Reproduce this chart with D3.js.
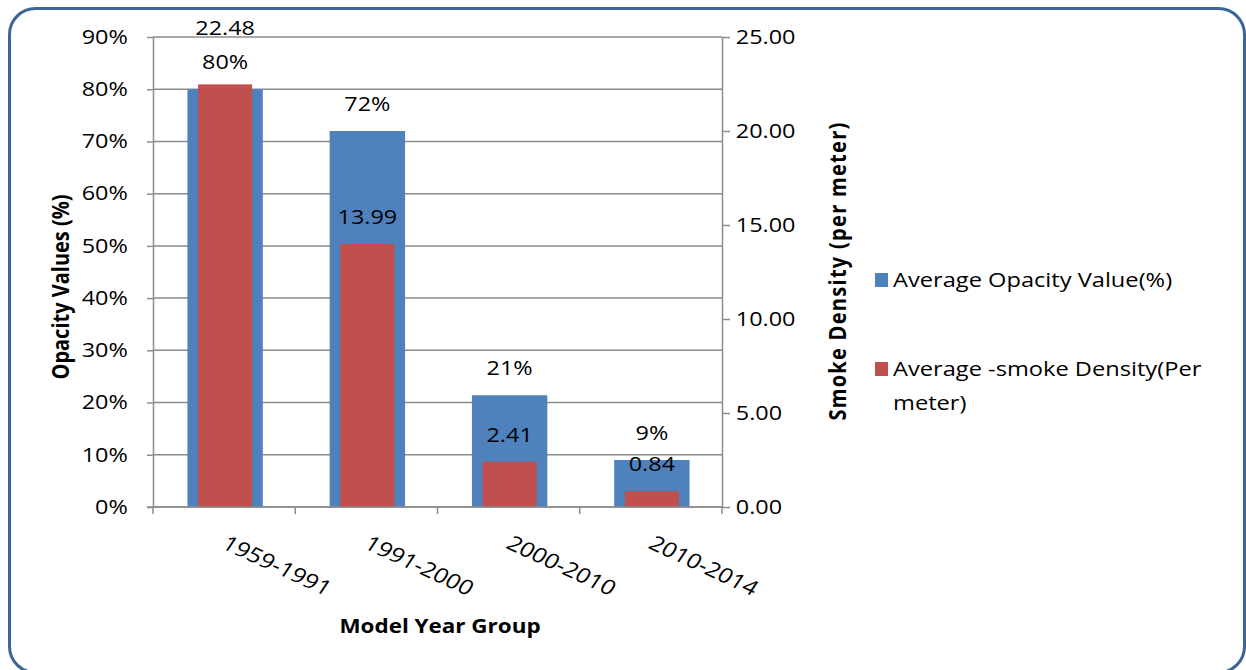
<!DOCTYPE html>
<html>
<head>
<meta charset="utf-8">
<script src="https://cdn.jsdelivr.net/npm/d3@7"></script>
<style>
  html, body { margin: 0; padding: 0; background: #ffffff; }
  svg { display: block; }
  text { font-family: "Open Sans", "Noto Sans", sans-serif; fill: #000; }
</style>
</head>
<body>
<svg id="chart" width="1246" height="670"></svg>
<script>
// Model year groups and the two measured series
const categories = ["1959-1991", "1991-2000", "2000-2010", "2010-2014"];
const opacityValues = [0.80, 0.72, 0.214, 0.09];      // Average Opacity Value (%)
const densityValues = [22.48, 13.99, 2.41, 0.84];     // Average smoke density (per meter)
const leftTicks = [0, 0.1, 0.2, 0.3, 0.4, 0.5, 0.6, 0.7, 0.8, 0.9];
const rightTicks = [0, 5, 10, 15, 20, 25];
const seriesColors = ["#4F81BD", "#C0504D"];

const SX = 1.2;           // horizontal widening applied to all text
const FONT = 19.5;
const GRID = "#8c8c8c";

const svg = d3.select("#chart");

// Rounded frame around the whole chart
svg.append("rect")
  .attr("x", 9.5).attr("y", 8.5)
  .attr("width", 1235).attr("height", 664)
  .attr("rx", 26).attr("ry", 26)
  .attr("fill", "#fff")
  .attr("stroke", "#3C6598").attr("stroke-width", 3);

const plot = { left: 153, right: 722, top: 37, bottom: 507 };

const x = d3.scaleBand().domain(categories).range([plot.left, plot.right]).padding(0);
const yL = d3.scaleLinear().domain([0, 0.9]).range([plot.bottom, plot.top]);
const yR = d3.scaleLinear().domain([0, 25]).range([plot.bottom, plot.top]);

// Horizontal gridlines at the left-axis ticks
svg.append("g").selectAll("line").data(leftTicks).join("line")
  .attr("x1", plot.left).attr("x2", plot.right)
  .attr("y1", d => yL(d)).attr("y2", d => yL(d))
  .attr("stroke", GRID).attr("stroke-width", 1.5);

// Bars: wide blue for opacity, narrower red for density drawn on top
const blueW = x.bandwidth() * 0.53;
const redW = x.bandwidth() * 0.38;
const cx = c => x(c) + x.bandwidth() / 2 + 1;

svg.append("g").selectAll("rect").data(categories).join("rect")
  .attr("x", c => cx(c) - blueW / 2)
  .attr("y", (c, i) => yL(opacityValues[i]))
  .attr("width", blueW)
  .attr("height", (c, i) => yL(0) - yL(opacityValues[i]))
  .attr("fill", seriesColors[0]);

svg.append("g").selectAll("rect").data(categories).join("rect")
  .attr("x", c => cx(c) - redW / 2)
  .attr("y", (c, i) => yR(densityValues[i]))
  .attr("width", redW)
  .attr("height", (c, i) => yR(0) - yR(densityValues[i]))
  .attr("fill", seriesColors[1]);

// Axes
function styleAxis(g) {
  g.select(".domain").attr("stroke", GRID).attr("stroke-width", 1.5);
  g.selectAll(".tick line").attr("stroke", GRID).attr("stroke-width", 1.5);
  g.selectAll(".tick text")
    .attr("font-size", FONT)
    .attr("font-family", "'Open Sans', sans-serif")
    .attr("fill", "#000")
    .attr("transform", `scale(${SX},1)`);
}

svg.append("g")
  .attr("transform", `translate(${plot.left},0)`)
  .call(d3.axisLeft(yL).tickValues(leftTicks).tickFormat(d3.format(".0%"))
    .tickSizeInner(6).tickSizeOuter(0).tickPadding(15))
  .call(styleAxis);

svg.append("g")
  .attr("transform", `translate(${plot.right},0)`)
  .call(d3.axisRight(yR).tickValues(rightTicks).tickFormat(d3.format(".2f"))
    .tickSizeInner(8).tickSizeOuter(0).tickPadding(3.5))
  .call(styleAxis);

// Category axis: boundary ticks, labels drawn separately
const xAxisG = svg.append("g");
xAxisG.append("line")
  .attr("x1", plot.left - 6).attr("x2", plot.right)
  .attr("y1", plot.bottom).attr("y2", plot.bottom)
  .attr("stroke", GRID).attr("stroke-width", 1.5);
const bounds = categories.map(c => x(c)).concat([x.range()[1]]);
xAxisG.selectAll("line.tk").data(bounds).join("line")
  .attr("class", "tk")
  .attr("x1", d => d).attr("x2", d => d)
  .attr("y1", plot.bottom).attr("y2", plot.bottom + 7)
  .attr("stroke", GRID).attr("stroke-width", 1.5);

xAxisG.selectAll("text").data(categories).join("text")
  .attr("transform", c => `translate(${cx(c) + 4},${plot.bottom + 27}) scale(${SX},1) rotate(29)`)
  .attr("dy", "0.75em")
  .attr("font-size", 20.5)
  .text(c => c);

// Data labels
const blueLabelY = opacityValues.map(v => yL(v) - 27);
svg.append("g").selectAll("text").data(categories).join("text")
  .attr("transform", (c, i) => `translate(${cx(c)},${blueLabelY[i]}) scale(${SX},1)`)
  .attr("text-anchor", "middle").attr("dy", "0.35em")
  .attr("font-size", FONT)
  .text((c, i) => d3.format(".0%")(opacityValues[i]));

svg.append("g").selectAll("text").data(categories).join("text")
  .attr("transform", (c, i) => {
    let ly = yR(densityValues[i]) - 27;
    if (Math.abs(ly - blueLabelY[i]) < 20) ly = blueLabelY[i] - 34;   // avoid overlapping the opacity label
    return `translate(${cx(c)},${ly}) scale(${SX},1)`;
  })
  .attr("text-anchor", "middle").attr("dy", "0.35em")
  .attr("font-size", FONT)
  .text((c, i) => d3.format(".2f")(densityValues[i]));

// Axis titles
svg.append("text")
  .attr("transform", `translate(61,287) scale(${SX},1) rotate(-90)`)
  .attr("text-anchor", "middle").attr("dy", "0.35em")
  .attr("font-size", 20).attr("font-weight", "bold")
  .text("Opacity Values (%)");

svg.append("text")
  .attr("transform", `translate(838,271) scale(${SX},1) rotate(-90)`)
  .attr("text-anchor", "middle").attr("dy", "0.35em")
  .attr("font-size", 20).attr("font-weight", "bold")
  .attr("letter-spacing", 1.3)
  .text("Smoke Density (per meter)");

svg.append("text")
  .attr("transform", `translate(440,626) scale(${SX},1)`)
  .attr("text-anchor", "middle").attr("dy", "0.35em")
  .attr("font-size", 18.7).attr("font-weight", "bold")
  .text("Model Year Group");

// Legend
const legend = svg.append("g");
const legendRows = [
  { y: 280, lines: ["Average Opacity Value(%)"] },
  { y: 369, lines: ["Average -smoke Density(Per", "meter)"] }
];
legendRows.forEach((row, i) => {
  legend.append("rect")
    .attr("x", 875).attr("y", row.y - 7)
    .attr("width", 13).attr("height", 14)
    .attr("fill", seriesColors[i]);
  row.lines.forEach((ln, j) => {
    legend.append("text")
      .attr("transform", `translate(893,${row.y + j * 34}) scale(${SX},1)`)
      .attr("dy", "0.35em")
      .attr("font-size", 19.7)
      .text(ln);
  });
});
</script>
</body>
</html>
